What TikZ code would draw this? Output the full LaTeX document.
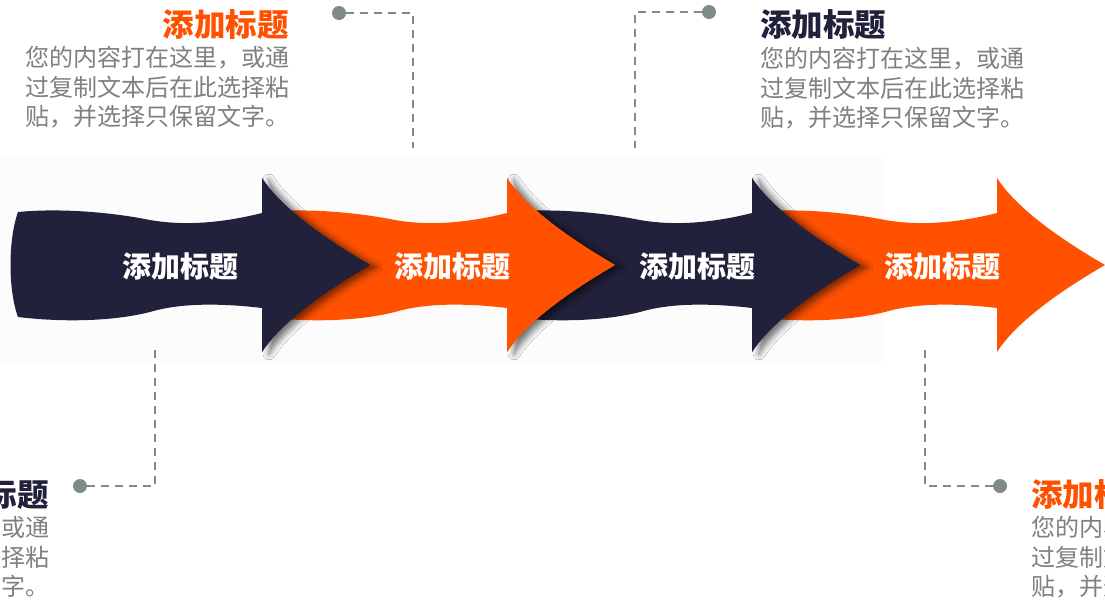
\documentclass[tikz,border=0pt]{standalone}
\usepackage{fontspec}
\newfontfamily\cjk{Noto Sans CJK SC}
\usetikzlibrary{shadows.blur}
\definecolor{navy}{HTML}{22213B}
\definecolor{orng}{HTML}{FF5100}
\definecolor{txtgray}{HTML}{808080}
\definecolor{linegray}{HTML}{7F8A8A}
\definecolor{bandc}{HTML}{FCFCFC}
\tikzset{
  arrowshade/.style={blur shadow={shadow xshift=7pt, shadow yshift=-2pt, shadow blur radius=6pt, shadow opacity=55}},
  arrlabel/.style={text=white, font=\cjk\bfseries\fontsize{29}{32}\selectfont, inner sep=0pt},
  ttl/.style={font=\cjk\bfseries\fontsize{31.5}{34}\selectfont, inner sep=0pt},
  bodytxt/.style={text=txtgray, font=\cjk\fontsize{24}{29.5}\selectfont, inner sep=0pt, text width=266pt, align=left},
  dotn/.style={circle, fill=linegray, minimum size=14pt, inner sep=0pt},
  dashline/.style={draw=linegray, line width=1.8pt, dash pattern=on 8pt off 6pt},
}
\newcommand{\headonly}{(262,178) .. controls (280,206) and (320,236) .. (370,265) .. controls (320,294) and (280,324) .. (262,352) -- cycle}
\newcommand{\arrowhead}{-- (262,178) .. controls (280,206) and (320,236) .. (370,265) .. controls (320,294) and (280,324) .. (262,352) -- (262,308)}
\newcommand{\topedge}{.. controls (60,208) and (110,212) .. (150,220) .. controls (190,227) and (230,221) .. (262,213)}
\newcommand{\botedge}{.. controls (220,303) and (180,303) .. (150,312) .. controls (110,322) and (60,322) .. (18,317)}
\begin{document}
\begin{tikzpicture}[x=1pt,y=-1pt]
\useasboundingbox (0,0) rectangle (1105,600);
\fill[white] (0,0) rectangle (1105,600);
\fill[bandc] (0,157) rectangle (883,364);
% arrows, drawn right to left
\begin{scope}[xshift=735pt]
\fill[orng] (25,212) -- (18,212) \topedge \arrowhead \botedge -- (25,317) -- cycle;
\end{scope}
\begin{scope}[xshift=490pt]
\fill[navy, arrowshade] \headonly;
\fill[navy] (25,212) -- (18,212) \topedge \arrowhead \botedge -- (25,317) -- cycle;
\end{scope}
\begin{scope}[xshift=245pt]
\fill[orng, arrowshade] \headonly;
\fill[orng] (25,212) -- (18,212) \topedge \arrowhead \botedge -- (25,317) -- cycle;
\end{scope}
\fill[navy, arrowshade] \headonly;
\fill[navy] (18,212) \topedge \arrowhead \botedge .. controls (8,290) and (8,240) .. (18,212) -- cycle;
% arrow labels
\node[arrlabel] (a1) at (180,266) {添加标题};
\node[arrlabel] (a2) at (452,266) {添加标题};
\node[arrlabel] (a3) at (697,266) {添加标题};
\node[arrlabel] (a4) at (942,266) {添加标题};
% connectors
\node[dotn] (d1) at (339,13) {};
\coordinate (c1) at (413,13);
\coordinate (e1) at (413,148);
\draw[dashline] (d1) -- (c1) -- (e1);
\node[dotn] (d2) at (709,12) {};
\coordinate (c2) at (635,12);
\coordinate (e2) at (635,148);
\draw[dashline] (d2) -- (c2) -- (e2);
\node[dotn] (d3) at (80,486) {};
\coordinate (c3) at (155,486);
\coordinate (e3) at (155,350);
\draw[dashline] (d3) -- (c3) -- (e3);
\node[dotn] (d4) at (1000,486) {};
\coordinate (c4) at (925,486);
\coordinate (e4) at (925,350);
\draw[dashline] (d4) -- (c4) -- (e4);
% text blocks
\node[ttl, text=orng, anchor=east] (t1) at (289,25) {添加标题};
\node[bodytxt, anchor=north west] (b1) at (25,46) {您的内容打在这里，或通\\过复制文本后在此选择粘\\贴，并选择只保留文字。};
\node[ttl, text=navy, anchor=west] (t2) at (760,25) {添加标题};
\node[bodytxt, anchor=north west] (b2) at (760,47) {您的内容打在这里，或通\\过复制文本后在此选择粘\\贴，并选择只保留文字。};
\node[ttl, text=navy, anchor=east] (t3) at (49,495) {添加标题};
\node[bodytxt, anchor=north west] (b3) at (-215,516) {您的内容打在这里，或通\\过复制文本后在此选择粘\\贴，并选择只保留文字。};
\node[ttl, text=orng, anchor=west] (t4) at (1031,495) {添加标题};
\node[bodytxt, anchor=north west] (b4) at (1031,516) {您的内容打在这里，或通\\过复制文本后在此选择粘\\贴，并选择只保留文字。};
\end{tikzpicture}
\end{document}
